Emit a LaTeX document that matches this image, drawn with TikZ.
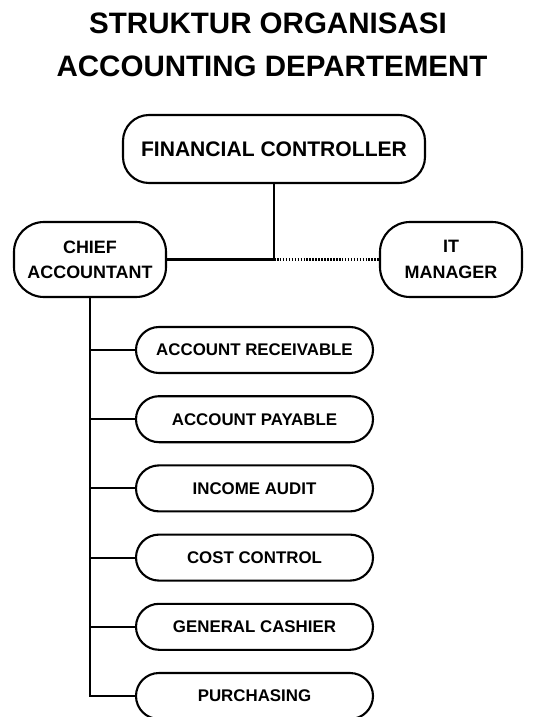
\documentclass[tikz,border=0pt]{standalone}
\usepackage{fontspec}
\setmainfont{Liberation Sans}
\usepackage{xcolor}
\usepackage{tikz}
\usetikzlibrary{positioning}

\begin{document}
\begin{tikzpicture}[
    line width=3pt,
    box/.style={draw, rounded corners=1.3cm, align=center, font=\fontsize{25.5}{36}\selectfont\bfseries},
    subbox/.style={draw, rounded corners=1.15cm, minimum width=11.85cm, minimum height=2.3cm, font=\fontsize{24}{28}\selectfont\bfseries}
  ]
      \useasboundingbox (0,0) rectangle (27.2,-35.85);
        \node[font=\fontsize{42}{50}\selectfont\bfseries] (title1) at (13.4,-1.15) {STRUKTUR ORGANISASI};
        \node[font=\fontsize{42}{50}\selectfont\bfseries] (title2) at (13.6,-3.33) {ACCOUNTING DEPARTEMENT};
      \node[box, minimum width=15.1cm, minimum height=3.4cm, font=\fontsize{30}{36}\selectfont\bfseries] (fc) at (13.7,-7.45) {FINANCIAL CONTROLLER};
      \node[box, minimum width=7.6cm, minimum height=3.75cm, rounded corners=1.5cm] (chief) at (4.5,-12.975) {CHIEF\\ACCOUNTANT};
      \node[box, minimum width=7.1cm, minimum height=3.75cm, rounded corners=1.5cm] (it) at (22.55,-12.975) {IT\\MANAGER};
      \coordinate (join) at (fc.south |- chief.east);
      \draw (fc.south) -- (join) -- (chief.east);
      \draw[dash pattern=on 2.2pt off 2pt] (join) -- (it.west);
      % staff units
      \foreach \name/\txt [count=\i] in {ar/ACCOUNT RECEIVABLE, ap/ACCOUNT PAYABLE, ia/INCOME AUDIT, cc/COST CONTROL, gc/GENERAL CASHIER, pu/PURCHASING} {
        \node[subbox] (\name) at (12.725,{-17.5-3.46*(\i-1)}) {\txt};
        \draw (chief.south) |- (\name.west);
      }
\end{tikzpicture}
\end{document}
